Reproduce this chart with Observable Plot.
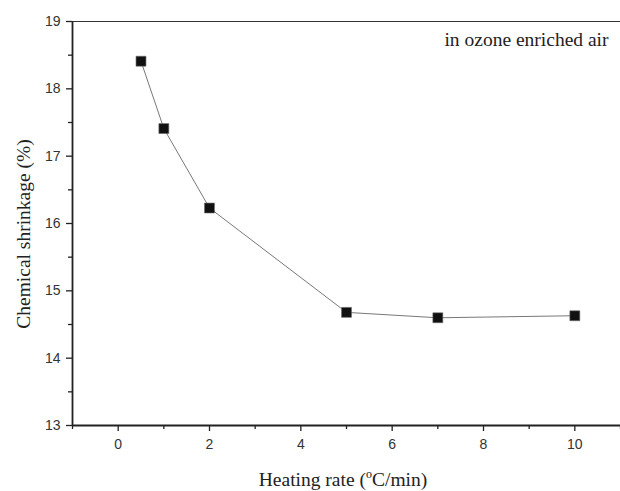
<!DOCTYPE html>
<html>
<head>
<meta charset="utf-8">
<script src="https://cdn.jsdelivr.net/npm/d3@7"></script>
<script src="https://cdn.jsdelivr.net/npm/@observablehq/plot@0.6"></script>
<style>
  html, body { margin: 0; padding: 0; background: #fff; }
  #chart svg { display: block; }
</style>
</head>
<body>
<div id="chart"></div>
<script>
const heatingRate = [0.5, 1, 2, 5, 7, 10];
const shrinkage = [18.41, 17.41, 16.23, 14.68, 14.60, 14.63];
const xMajorTicks = [0, 2, 4, 6, 8, 10];
const xMinorTicks = [-1, 1, 3, 5, 7, 9, 11];
const yMajorTicks = [13, 14, 15, 16, 17, 18, 19];
const yMinorTicks = [13.5, 14.5, 15.5, 16.5, 17.5, 18.5];
const annotation = ["in ozone enriched air"];

const data = heatingRate.map((x, i) => ({x, y: shrinkage[i]}));
const ink = "#222";
const sans = "'Liberation Sans', Arial, sans-serif";
const serif = "'Liberation Serif', 'Times New Roman', serif";
const titleSize = 19.5;

const plot = Plot.plot({
  width: 620,
  height: 491,
  marginLeft: 72,
  marginRight: 0,
  marginTop: 21,
  marginBottom: 66,
  style: {background: "#fff", color: ink},
  x: {domain: [-1, 11], label: null},
  y: {domain: [13, 19], label: null},
  marks: [
    Plot.ruleY([19], {stroke: "#333", strokeWidth: 1.2}),
    Plot.axisX({ticks: xMinorTicks, tickSize: 4, text: null, label: null, stroke: ink, strokeWidth: 1.3}),
    Plot.axisX({ticks: xMajorTicks, tickSize: 6, tickPadding: 8, fontSize: 14, tickFormat: "d",
      label: null, stroke: ink, strokeWidth: 1.3, fill: "#333"}),
    Plot.axisY({ticks: yMinorTicks, tickSize: 4, text: null, label: null, stroke: ink, strokeWidth: 1.3}),
    Plot.axisY({ticks: yMajorTicks, tickSize: 6, tickPadding: 6, fontSize: 14, tickFormat: "d",
      label: null, stroke: ink, strokeWidth: 1.3, fill: "#333"}),
    Plot.ruleY([13], {stroke: ink, strokeWidth: 1.8}),
    Plot.ruleX([-1], {stroke: ink, strokeWidth: 1.8}),
    Plot.line(data, {x: "x", y: "y", stroke: "#555", strokeWidth: 0.8}),
    Plot.dot(data, {x: "x", y: "y", symbol: "square", r: 5.6, fill: "#111", stroke: "#666", strokeWidth: 0.6}),
    Plot.text(annotation, {text: d => d, frameAnchor: "top-right", textAnchor: "end", lineAnchor: "bottom",
      dx: -12, dy: 24, fontSize: titleSize, fill: ink})
  ]
});

const svg = d3.select(plot);
svg.selectAll("text").style("font-family", sans);
svg.selectAll('g[aria-label="text"] text').style("font-family", serif);

// x-axis title with superscript "o"
const xt = svg.append("text")
  .attr("x", 343).attr("y", 486)
  .attr("text-anchor", "middle")
  .style("font-family", serif)
  .attr("font-size", titleSize)
  .attr("fill", ink);
xt.append("tspan").text("Heating rate (");
xt.append("tspan").attr("font-size", 12).attr("dy", -8).text("o");
xt.append("tspan").attr("dy", 8).text("C/min)");

svg.append("text")
  .attr("transform", "translate(30,234) rotate(-90)")
  .attr("text-anchor", "middle")
  .style("font-family", serif)
  .attr("font-size", titleSize)
  .attr("fill", ink)
  .text("Chemical shrinkage (%)");

document.getElementById("chart").appendChild(plot);
</script>
</body>
</html>
